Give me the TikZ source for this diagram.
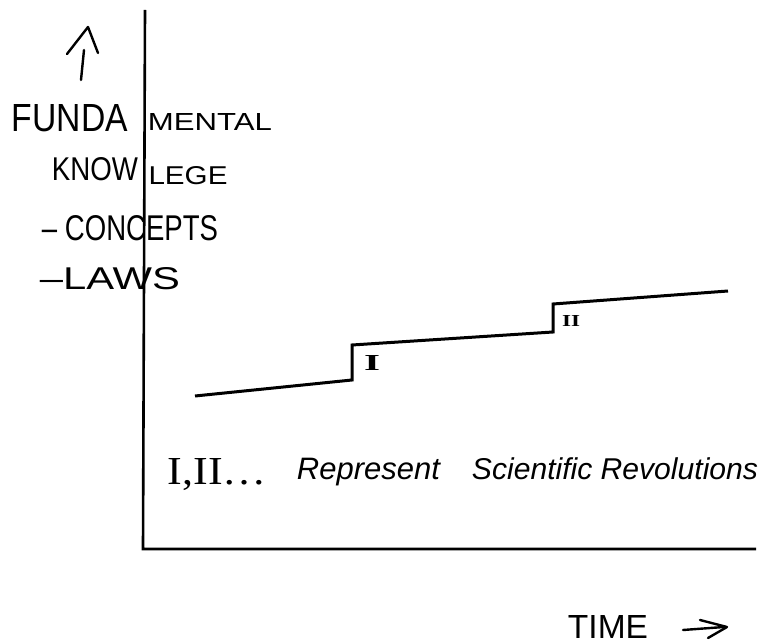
\documentclass[tikz,border=0pt]{standalone}
\usepackage{fontspec}
\usepackage{graphicx}
\usetikzlibrary{arrows.meta}
\setmainfont{Liberation Sans}
\newfontfamily\romfont{Liberation Serif}
\newcommand\fitbox[3]{\resizebox{#1pt}{#2pt}{#3}}
\newcommand\fitw[2]{\resizebox{#1pt}{!}{#2}}
\begin{document}
\begin{tikzpicture}[x=1pt,y=-1pt]
\tikzset{
  axis/.style={line width=2.6pt},
  stair/.style={line width=3pt, line join=miter},
  arr/.style={line width=2.4pt, line cap=round, line join=round},
  lbl/.style={inner sep=0pt, anchor=center},
  bl/.style={inner sep=0pt, anchor=base},
}
\useasboundingbox (0,0) rectangle (761,644);
% axes
\coordinate (ytop) at (145,10);
\coordinate (orig) at (143,549);
\coordinate (xend) at (756,549);
\draw[axis] (ytop) -- (orig) -- (xend);
% up arrow
\coordinate (ua0) at (81,80);
\coordinate (ua1) at (84,50);
\coordinate (uap) at (88,27);
\coordinate (ual) at (67,54);
\coordinate (uar) at (98,53);
\draw[arr] (ua0) -- (ua1);
\draw[arr] (ual) -- (uap) -- (uar);
% staircase
\coordinate (s0) at (195,396);
\coordinate (s1) at (352,380);
\coordinate (s2) at (352,345);
\coordinate (s3) at (553,332);
\coordinate (s4) at (553,304);
\coordinate (s5) at (728,291);
\draw[stair] (s0) -- (s1) -- (s2) -- (s3) -- (s4) -- (s5);
\node[lbl] (r1) at (372,363) {\romfont\bfseries\fitbox{16}{15}{I}};
\node[lbl] (r2) at (571,321) {\romfont\bfseries\fitbox{18}{11}{II}};
% y label
\node[lbl] (funda) at (70,118) {\fitbox{116}{27}{FUNDA}};
\node[lbl] (mental) at (210,122) {\fitbox{124}{17}{MENTAL}};
\node[lbl] (know) at (95,169) {\fitbox{86}{23}{KNOW}};
\node[lbl] (lege) at (188,176) {\fitbox{79}{18}{LEGE}};
\node[lbl] (concepts) at (130,228) {\fitbox{176}{25}{– CONCEPTS}};
\node[lbl] (laws) at (110,279) {\fitbox{140}{22}{–LAWS}};
% note
\node[bl] (roman) at (217.5,484) {\romfont\fitbox{99}{26}{I,II\ldots}};
\node[bl] (repr) at (368.5,479) {\itshape\fitw{143}{Represent}};
\node[bl] (sci) at (615,479) {\itshape\fitw{286}{Scientific Revolutions}};
% time
\node[lbl] (time) at (608,627) {\fitbox{80}{23}{TIME}};
\coordinate (ta0) at (683,630);
\coordinate (ta1) at (724,627);
\coordinate (tb0) at (700,620);
\coordinate (tap) at (727,627);
\coordinate (tb1) at (708,638);
\draw[arr] (ta0) -- (ta1);
\draw[arr] (tb0) -- (tap) -- (tb1);
\end{tikzpicture}
\end{document}
